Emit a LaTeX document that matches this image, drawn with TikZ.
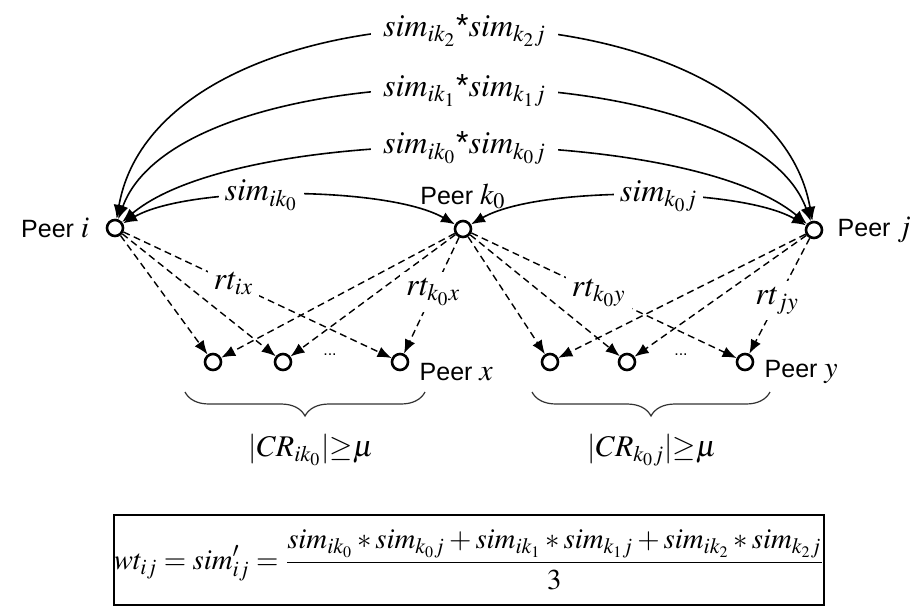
\documentclass[tikz,border=0pt]{standalone}
\usepackage{mathptmx}
\usepackage[no-math]{fontspec}
\setmainfont{Liberation Sans}
\usetikzlibrary{arrows.meta, positioning, decorations.pathreplacing}

\begin{document}
\begin{tikzpicture}[
    x=0.5pt,
    y=-0.5pt,
    font=\fontsize{12.5}{15}\selectfont,
    peer/.style={circle, draw, line width=1.3pt, minimum size=8pt, inner sep=0pt},
    link/.style={line width=0.8pt, {Latex[length=7pt,width=5.5pt]}-{Latex[length=7pt,width=5.5pt]}},
    rate/.style={line width=0.7pt, dash pattern=on 3.5pt off 2.2pt, -{Latex[length=7pt,width=5.5pt]}},
    lab/.style={fill=white, inner sep=3pt, font=\fontsize{16}{19}\selectfont},
    peerlabel/.style={inner sep=0pt}
]
\useasboundingbox (0,0) rectangle (916,612);

% Peers
\node[peer] (pi) at (115,228) {};
\node[peer] (pk) at (463,229) {};
\node[peer] (pj) at (814,230) {};
\foreach \x/\nm in {213/l1,283/l2,400/px,550/r1,627/r2,745/py}{
  \node[peer] (\nm) at (\x,362) {};
}
\node[font=\footnotesize] (dl) at (330,355) {...};
\node[font=\footnotesize] (dr) at (681,355) {...};

% Peer names
\node[peerlabel, left=8pt of pi] (ni) {Peer \fontsize{15}{18}\selectfont$i$};
\node[peerlabel, above=5pt of pk] (nk) {Peer \fontsize{15}{18}\selectfont$k_0$};
\node[peerlabel, right=7pt of pj] (nj) {Peer \fontsize{15}{18}\selectfont$j$};
\node[peerlabel, right=5pt of px, yshift=-5pt] (nx) {Peer \fontsize{15}{18}\selectfont$x$};
\node[peerlabel, right=5pt of py, yshift=-5pt] (ny) {Peer \fontsize{15}{18}\selectfont$y$};

% Similarities
\draw[link] (pi) to[out=30,in=150,looseness=0.59] node[lab,pos=0.43] {$sim_{ik_0}$} (pk);
\draw[link] (pk) to[out=30,in=150,looseness=0.59] node[lab,pos=0.55] {$sim_{k_0j}$} (pj);
\draw[link] (pi) to[out=40,in=140,looseness=0.58] node[lab,inner sep=6pt] {$sim_{ik_0}$*$sim_{k_0j}$} (pj);
\draw[link] (pi) to[out=70,in=110,looseness=0.68] node[lab,inner sep=6pt] {$sim_{ik_1}$*$sim_{k_1j}$} (pj);
\draw[link] (pi) to[out=80,in=100,looseness=0.94] node[lab,inner sep=6pt] {$sim_{ik_2}$*$sim_{k_2j}$} (pj);

% Ratings
\foreach \t in {l1,l2}{
  \draw[rate] (pi) -- (\t);
  \draw[rate] (pk) -- (\t);
}
\foreach \t in {r1,r2}{
  \draw[rate] (pk) -- (\t);
  \draw[rate] (pj) -- (\t);
}
\draw[rate] (pi) -- node[lab,pos=0.41] {$rt_{ix}$} (px);
\draw[rate] (pk) -- node[lab,pos=0.47] {$rt_{k_0x}$} (px);
\draw[rate] (pk) -- node[lab,pos=0.48] {$rt_{k_0y}$} (py);
\draw[rate] (pj) -- node[lab,pos=0.54] {$rt_{jy}$} (py);

% Co-rated sets
\draw[black!80, line width=0.6pt, decorate, decoration={brace, mirror, amplitude=12pt}]
  (185,392) -- (425,392);
\draw[black!80, line width=0.6pt, decorate, decoration={brace, mirror, amplitude=12pt}]
  (532,392) -- (770,392);
\node[lab, font=\fontsize{15}{18}\selectfont] (cl) at (311,450) {$|CR_{ik_0}|{\geq}\mu$};
\node[lab, font=\fontsize{15}{18}\selectfont] (cr) at (652,450) {$|CR_{k_0j}|{\geq}\mu$};

% Weight
\node[draw, line width=0.8pt, minimum width=299pt, minimum height=45pt, inner sep=0pt] (wt) at (469,560)
  {\fontsize{14.4}{17}\selectfont $\displaystyle wt_{ij}=sim'_{ij}=\frac{sim_{ik_0}*sim_{k_0j}+sim_{ik_1}*sim_{k_1j}+sim_{ik_2}*sim_{k_2j}}{3}$};

\end{tikzpicture}
\end{document}
